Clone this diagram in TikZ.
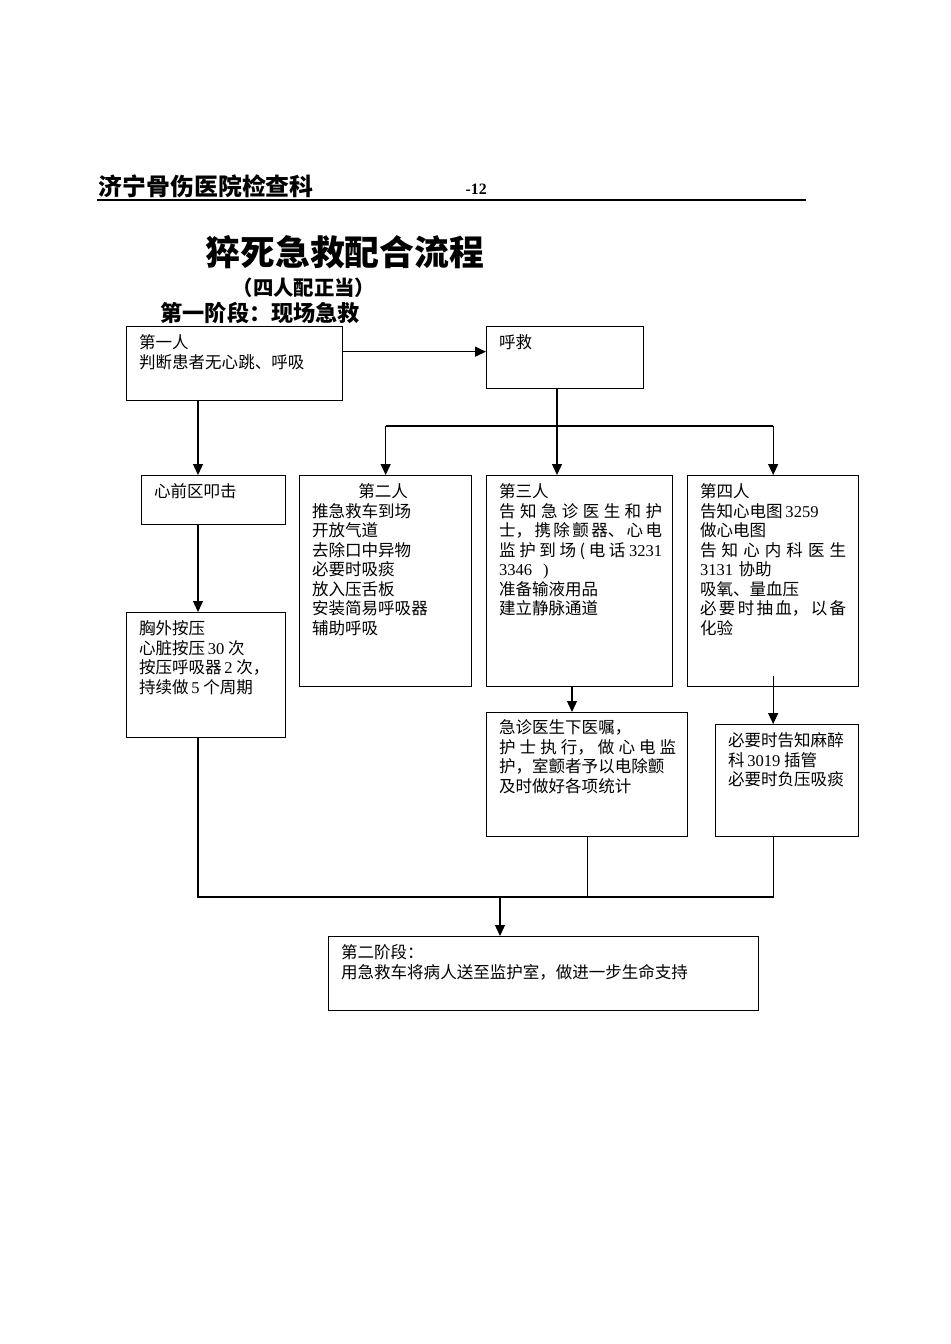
\documentclass[tikz,border=0pt]{standalone}
\usepackage{fontspec}
\setmainfont{Liberation Serif}
\newfontfamily\cjk{Noto Sans CJK SC}
\usetikzlibrary{arrows.meta}
\newcommand{\px}{0.02cm}
\newcommand{\num}[1]{{\rmfamily #1}}
\newcommand{\spread}[1]{\makebox[\hsize][s]{\spaceskip=0pt plus 1fil #1}}
\begin{document}
\begin{tikzpicture}[
	x=0.02cm, y=-0.02cm,
	>={Triangle[length=0.22cm,width=0.2cm]},
	line width=0.75pt,
	box/.style={draw, anchor=north west, inner sep=0pt},
	txt/.style={anchor=north west, inner xsep=0.25cm, inner ysep=0.16cm, align=left,
		font=\cjk\fontsize{9.4}{11.1}\selectfont},
	head/.style={anchor=west, inner sep=0pt}
	]
	\useasboundingbox (0,0) rectangle (950,1344);
	% page head
	\node[head, anchor=base west, font=\cjk\bfseries\fontsize{13.6}{16}\selectfont] (hosp) at (98,196) {济宁骨伤医院检查科};
	\node[head, anchor=base west, font=\bfseries\fontsize{9}{11}\selectfont] (page) at (465,195) {-12};
	\draw[line width=1pt] (97,200) -- (806,200);
	% titles
	\node[head, font=\cjk\bfseries\fontsize{19.8}{24}\selectfont] (title) at (205,252) {猝死急救配合流程};
	\node[head, font=\cjk\bfseries\fontsize{11.6}{14}\selectfont] (sub) at (232,288) {（四人配正当）};
	\node[head, font=\cjk\bfseries\fontsize{12.6}{15}\selectfont] (stage) at (160,313) {第一阶段：现场急救};
	% boxes
	\node[box, minimum width=216*\px, minimum height=74*\px,
		label={[txt]north west:{第一人\\判断患者无心跳、呼吸}}] (p1) at (126,326) {};
	\node[box, minimum width=157*\px, minimum height=62*\px,
		label={[txt]north west:{呼救}}] (hj) at (486,326) {};
	\node[box, minimum width=144*\px, minimum height=49*\px,
		label={[txt]north west:{心前区叩击}}] (knock) at (141,475) {};
	\node[box, minimum width=159*\px, minimum height=125*\px,
		label={[txt]north west:{胸外按压\\心脏按压\,\num{30} 次\\按压呼吸器\,\num{2} 次，\\持续做\,\num{5} 个周期}}] (cpr) at (126,612) {};
	\node[box, minimum width=172*\px, minimum height=211*\px,
		label={[txt]north west:{\hspace*{2.8em}第二人\\推急救车到场\\开放气道\\去除口中异物\\必要时吸痰\\放入压舌板\\安装简易呼吸器\\辅助呼吸}}] (p2) at (299,475) {};
	\node[box, minimum width=186*\px, minimum height=211*\px,
		label={[txt, text width=163*\px]north west:{第三人\\\spread{告 知 急 诊 医 生 和 护}\\\spread{士， 携 除 颤 器、 心 电}\\\spread{监 护 到 场 ( 电 话 \num{3231}}\\\num{3346 \ )}\\准备输液用品\\建立静脉通道}}] (p3) at (486,475) {};
	\node[box, minimum width=171*\px, minimum height=211*\px,
		label={[txt, text width=146*\px]north west:{第四人\\告知心电图\,\num{3259}\\做心电图\\\spread{告 知 心 内 科 医 生}\\\num{3131} 协助\\吸氧、量血压\\\spread{必 要 时 抽 血， 以 备}\\化验}}] (p4) at (687,475) {};
	\node[box, minimum width=201*\px, minimum height=124*\px,
		label={[txt, text width=177*\px, inner ysep=0.14cm]north west:{急诊医生下医嘱，\\\spread{护 士 执 行， 做 心 电 监}\\护，室颤者予以电除颤\\及时做好各项统计}}] (p5) at (486,712) {};
	\node[box, minimum width=143*\px, minimum height=112*\px,
		label={[txt]north west:{必要时告知麻醉\\科\,\num{3019} 插管\\必要时负压吸痰}}] (p6) at (715,724) {};
	\node[box, minimum width=430*\px, minimum height=74*\px,
		label={[txt]north west:{第二阶段：\\用急救车将病人送至监护室，做进一步生命支持}}] (p8) at (328,936) {};
	% connectors
	\coordinate (call) at ([yshift=6*\px]hj.west);
	\coordinate (lcol) at (198,0);
	\coordinate (mcol) at (572,0);
	\coordinate (bus) at (557,426);
	\coordinate (join) at (500,897);
	\draw[->] (call -| p1.east) -- (call);
	\draw[->] (p1.south -| lcol) -- (knock.north -| lcol);
	\draw[->] (knock.south -| lcol) -- (cpr.north -| lcol);
	\draw (hj.south -| bus) -- (bus);
	\draw (bus -| p2.north) -- (bus -| p4.north);
	\draw[->] (bus -| p2.north) -- (p2.north);
	\draw[->] (bus) -- (p3.north -| bus);
	\draw[->] (bus -| p4.north) -- (p4.north);
	\draw[->] (p3.south -| mcol) -- (p5.north -| mcol);
	\draw[->] ([yshift=11*\px]p4.south) -- (p6.north -| p4.south);
	\draw (cpr.south -| lcol) -- (join -| lcol) -- (join -| p4.south) -- (p6.south -| p4.south);
	\draw (p5.south) -- (join -| p5.south);
	\draw[->] (join) -- (p8.north -| join);
\end{tikzpicture}
\end{document}
